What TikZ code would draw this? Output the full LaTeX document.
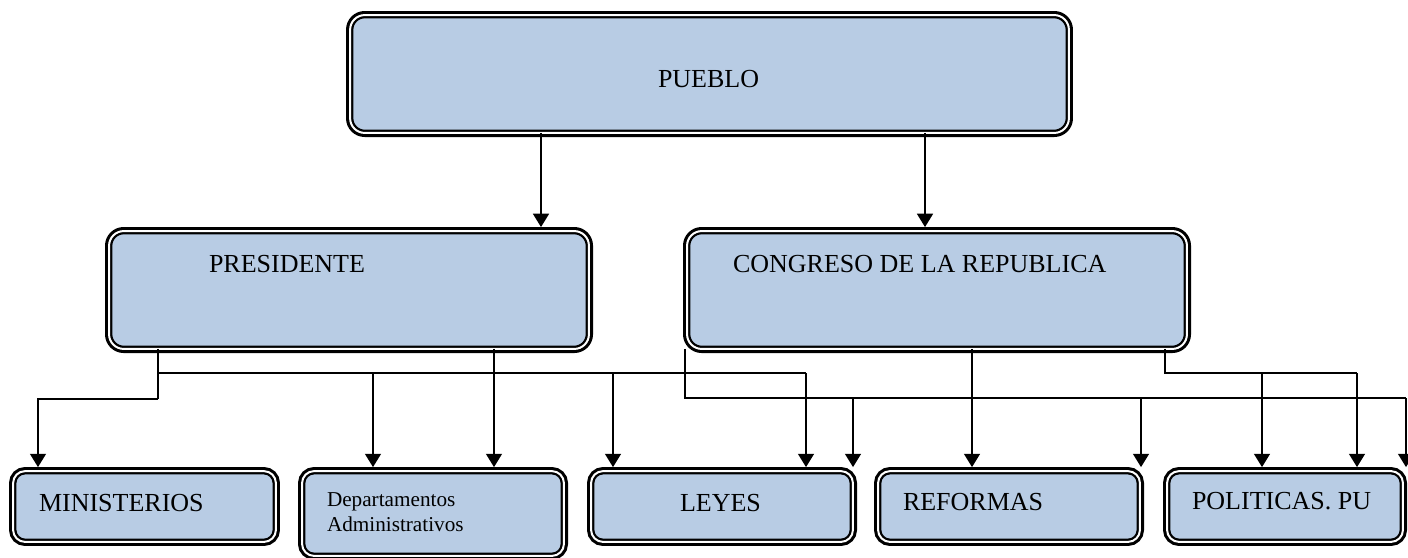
\documentclass[tikz,border=0pt]{standalone}
\usepackage{fontspec}
\setmainfont{Liberation Serif}
\usetikzlibrary{arrows.meta}
\definecolor{boxblue}{HTML}{B8CCE4}
\begin{document}
\begin{tikzpicture}[x=0.75pt,y=-0.75pt,
  obox/.style={preaction={draw=black, line width=6.1pt},
    draw=black, line width=1.7pt, double=white, double distance=1.5pt,
    fill=boxblue, rounded corners=#1, inner sep=0pt, outer sep=0pt, rectangle},
  obox/.default=9pt,
  lbl/.style={inner sep=0pt, outer sep=0pt, font=\fontsize{19.5pt}{23pt}\selectfont, anchor=base west},
  slbl/.style={inner sep=0pt, outer sep=0pt, font=\fontsize{15.9pt}{18.75pt}\selectfont, align=left, anchor=north west},
  conn/.style={line width=1.1pt, -{Triangle[width=12pt,length=10pt]}, shorten >=3pt},
  wire/.style={line width=1.1pt}
]
\useasboundingbox (0,0) rectangle (1408,557);

% boxes
\node[obox=11pt, minimum width=539.1pt, minimum height=88.4pt] (pueblo) at (709.5,74) {};
\node[obox=11pt, minimum width=359.9pt, minimum height=88.4pt] (pres) at (349,290) {};
\node[obox=11pt, minimum width=374.9pt, minimum height=88.4pt] (cong) at (937,290) {};
\node[obox, minimum width=197.1pt, minimum height=53.1pt] (mini) at (144.5,506.5) {};
\node[obox, minimum width=196.4pt, minimum height=63.6pt] (dep) at (433,513.5) {};
\node[obox, minimum width=196.4pt, minimum height=53.1pt] (leyes) at (722,506.5) {};
\node[obox, minimum width=196.4pt, minimum height=53.1pt] (ref) at (1009,506.5) {};
\node[obox, minimum width=176.9pt, minimum height=53.1pt] (pol) at (1285,506.5) {};

% labels
\node[lbl] (tpueblo) at (658,87.5) {PUEBLO};
\node[lbl] (tpres) at (209,272) {PRESIDENTE};
\node[lbl] (tcong) at (733,272) {CONGRESO DE LA REPUBLICA};
\node[lbl] (tmini) at (39,511) {MINISTERIOS};
\node[slbl] (tdep) at (327,493) {Departamentos\\Administrativos};
\node[lbl] (tleyes) at (680,511) {LEYES};
\node[lbl] (tref) at (903,510) {REFORMAS};
\node[lbl] (tpol) at (1192,509) {POLITICAS. PU};

% junction coordinates
\coordinate (pa) at (158,399);
\coordinate (pb) at (38,399);
\coordinate (ha) at (158,373);
\coordinate (hb) at (806,373);
\coordinate (ca) at (685,398);
\coordinate (cb) at (1406,398);
\coordinate (cc) at (1165,373);
\coordinate (cd) at (1357,373);

% PUEBLO -> PRESIDENTE / CONGRESO
\draw[conn] (pueblo.south -| 541,0) -- (pres.north -| 541,0);
\draw[conn] (pueblo.south -| 925,0) -- (cong.north -| 925,0);

% PRESIDENTE connectors
\draw[wire] (pres.south -| pa) -- (pa);
\draw[conn] (pa) -- (pb) -- (mini.north -| pb);
\draw[wire] (ha) -- (hb);
\draw[conn] (hb) -- (leyes.north -| hb);
\draw[conn] (373,373) -- (dep.north -| 373,0);
\draw[conn] (613,373) -- (leyes.north -| 613,0);
\draw[conn] (pres.south -| 494,0) -- (dep.north -| 494,0);

% CONGRESO connectors
\draw[wire] (cong.south -| ca) -- (ca) -- (cb);
\draw[conn] (cb) -- (pol.north -| cb);
\draw[conn] (853,398) -- (leyes.north -| 853,0);
\draw[conn] (1141,398) -- (ref.north -| 1141,0);
\draw[conn] (cong.south -| 972,0) -- (ref.north -| 972,0);
\draw[wire] (cong.south -| cc) -- (cc) -- (cd);
\draw[conn] (cd) -- (pol.north -| cd);
\draw[conn] (1262,373) -- (pol.north -| 1262,0);
\end{tikzpicture}
\end{document}
